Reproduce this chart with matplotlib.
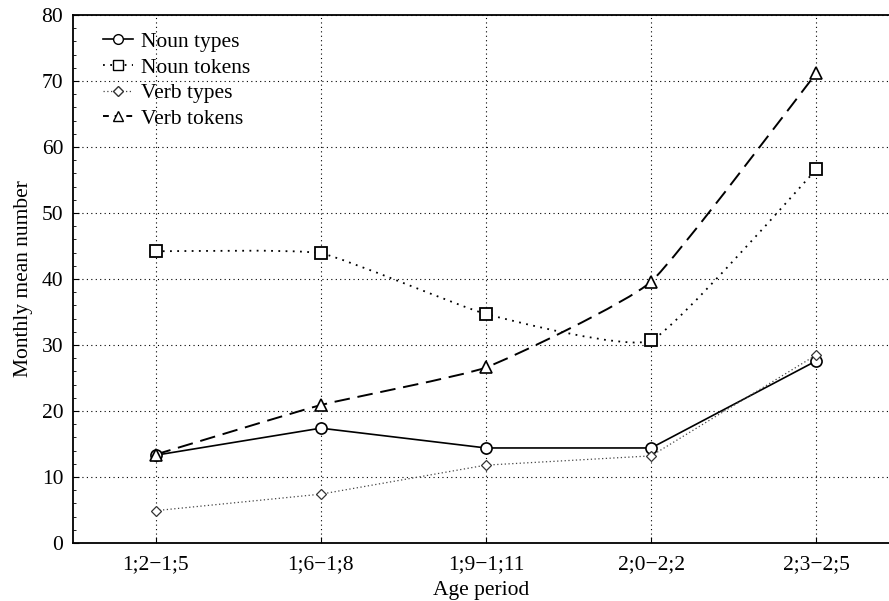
import numpy as np
import matplotlib
matplotlib.use('Agg')
import matplotlib.pyplot as plt
from matplotlib.path import Path
from matplotlib.patches import PathPatch
from matplotlib.lines import Line2D

plt.rcParams['font.family'] = ['Liberation Serif', 'DejaVu Serif']

# data
age_periods = ['1;2\u22121;5', '1;6\u22121;8', '1;9\u22121;11', '2;0\u22122;2', '2;3\u22122;5']
noun_types = [13.3, 17.4, 14.4, 14.4, 27.6]
noun_tokens = [44.2, 43.9, 34.7, 30.7, 56.6]
verb_types = [4.9, 7.4, 11.8, 13.2, 28.5]
verb_tokens = [13.4, 20.9, 26.6, 39.6, 71.2]


def smooth_path(xs, ys, k=14.0):
    # bezier through the points, tangents from neighbours (drawn by matplotlib's curve codes)
    pts = np.column_stack([xs, ys]).astype(float)
    verts = [pts[0]]
    codes = [Path.MOVETO]
    n = len(pts)
    for i in range(n - 1):
        p0 = pts[i - 1] if i > 0 else pts[i]
        p1 = pts[i]
        p2 = pts[i + 1]
        p3 = pts[i + 2] if i + 2 < n else pts[i + 1]
        c1 = p1 + (p2 - p0) / k
        c2 = p2 - (p3 - p1) / k
        verts += [c1, c2, p2]
        codes += [Path.CURVE4] * 3
    return Path(verts, codes)


fig = plt.figure(figsize=(8.89, 6.01), dpi=100)
ax = fig.add_axes([0.0821, 0.0965, 0.9179, 0.8785])

x = np.arange(len(age_periods))

# noun types - solid straight line
ax.plot(x, noun_types, color='black', lw=1.2, ls='-', marker='o', ms=8,
        mfc='white', mec='black', mew=1.2, zorder=3)

# verb types - fine dotted line
ax.plot(x, verb_types, color='#444444', lw=0.9, ls=(0, (1, 2)), marker='D', ms=5.5,
        mfc='white', mec='#333333', mew=0.9, zorder=3)

# noun tokens - dotted smooth curve
ax.add_patch(PathPatch(smooth_path(x, noun_tokens), fill=False, ec='black',
                       lw=1.3, ls=(0, (1, 3)), zorder=2))
ax.plot(x, noun_tokens, ls='none', marker='s', ms=8.5, mfc='white', mec='black',
        mew=1.3, zorder=3)

# verb tokens - dashed smooth curve
ax.add_patch(PathPatch(smooth_path(x, verb_tokens), fill=False, ec='black',
                       lw=1.4, ls=(0, (8, 4)), zorder=2))
ax.plot(x, verb_tokens, ls='none', marker='^', ms=9, mfc='white', mec='black',
        mew=1.2, zorder=3)

ax.set_xlim(-0.5, 4.44)
ax.set_ylim(0, 80)
ax.set_xticks(x)
ax.set_xticklabels(age_periods)
ax.set_yticks(np.arange(0, 81, 10))
ax.set_yticks(np.arange(0, 81, 2), minor=True)
ax.tick_params(axis='both', which='major', direction='in', length=4, labelsize=15.5,
               colors='black', pad=7)
ax.tick_params(axis='x', pad=9)
ax.tick_params(axis='y', which='minor', direction='in', length=2)
ax.grid(True, which='major', ls=(0, (1, 3)), color='black', lw=0.8)
ax.set_axisbelow(True)
ax.spines['right'].set_visible(False)
for s in ax.spines.values():
    s.set_linewidth(1.3)

ax.set_xlabel('Age period', fontsize=15.5, labelpad=5)
ax.set_ylabel('Monthly mean number', fontsize=15.5, labelpad=6)

handles = [
    Line2D([], [], color='black', lw=1.2, marker='o', ms=7, mfc='white', mec='black'),
    Line2D([], [], color='black', lw=1.3, ls=(0, (1, 3)), marker='s', ms=7, mfc='white', mec='black'),
    Line2D([], [], color='#444444', lw=0.9, ls=(0, (1, 2)), marker='D', ms=5, mfc='white', mec='#333333'),
    Line2D([], [], color='black', lw=1.4, ls=(0, (3, 3)), marker='^', ms=7, mfc='white', mec='black'),
]
ax.legend(handles, ['Noun types', 'Noun tokens', 'Verb types', 'Verb tokens'],
          loc='upper left', bbox_to_anchor=(0.037, 0.968), frameon=False,
          fontsize=15.5, handlelength=1.4, labelspacing=0.26, borderaxespad=0,
          borderpad=0, handletextpad=0.35)

fig.savefig('out.png', dpi=100)
